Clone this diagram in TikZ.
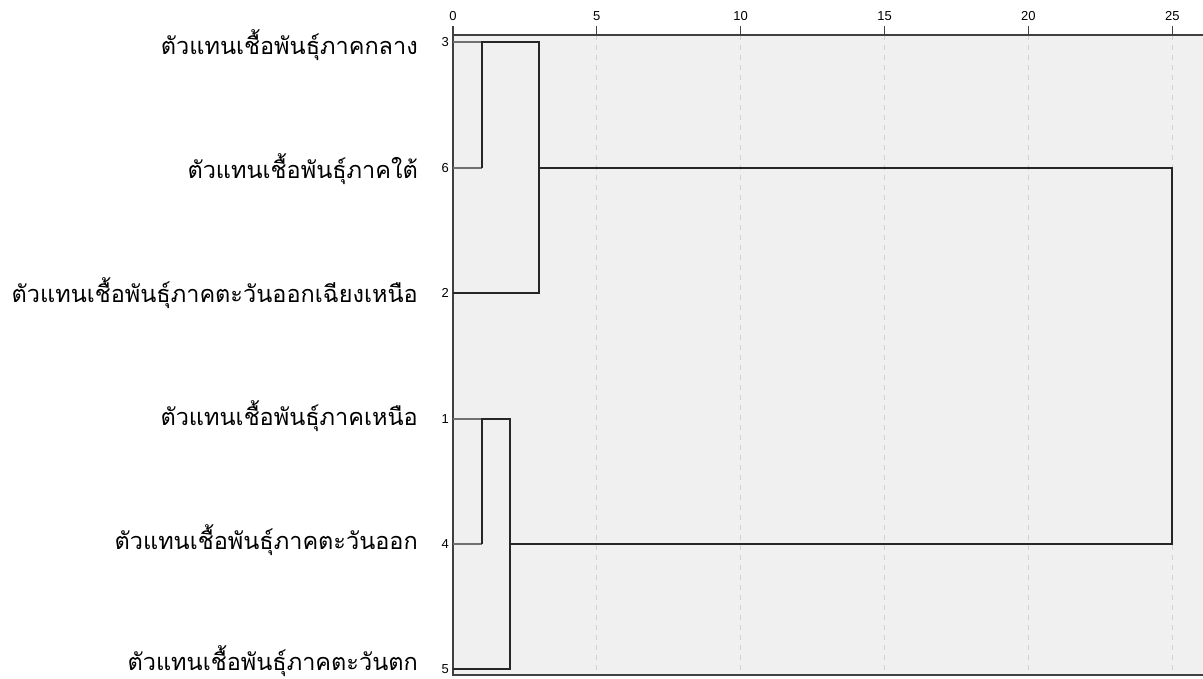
\documentclass[tikz,border=0pt]{standalone}
\usepackage{fontspec}
\setmainfont{Liberation Sans}
\newfontfamily\thaifont[Script=Thai]{Loma}
\definecolor{plotbg}{HTML}{F0F0F0}
\definecolor{gridc}{HTML}{D2D2D2}
\definecolor{leafc}{HTML}{707070}
\begin{document}
\begin{tikzpicture}[x=1pt,y=-1pt,
  thailbl/.style={anchor=base east,inner sep=0pt,text depth=0pt,font=\thaifont\fontsize{23.5}{28}\selectfont},
  numlbl/.style={anchor=east,inner sep=0pt,font=\fontsize{13}{15}\selectfont},
  ticklbl/.style={anchor=south,inner sep=0pt,font=\fontsize{13}{15}\selectfont},
  gridline/.style={gridc,dashed,line width=0.8pt,dash pattern=on 5pt off 5pt},
  leafline/.style={leafc,line width=1.2pt},
  linkline/.style={black!85,line width=1.5pt},
  frameline/.style={black!75,line width=1.2pt}]
\useasboundingbox (0,0) rectangle (1203,679);
\fill[plotbg] (453,35) rectangle (1203,675);
% grid and ticks
\foreach \v in {5,10,15,20,25}{
  \draw[gridline] ({453+28.77*\v},35) -- ({453+28.77*\v},675);
}
\foreach \v in {0,5,10,15,20,25}{
  \draw[frameline] ({453+28.77*\v},35) -- ({453+28.77*\v},26);
  \node[ticklbl] (tk\v) at ({453+28.77*\v},21) {\v};
}
\draw[frameline] (453,35) -- (1203,35);
\draw[frameline] (453,35) -- (453,675) -- (1203,675);
% leaves
\foreach \n/\yy/\by/\t in {3/42/55/ตัวแทนเชื้อพันธุ์ภาคกลาง,
  6/168/178.5/ตัวแทนเชื้อพันธุ์ภาคใต้,
  2/293/302/ตัวแทนเชื้อพันธุ์ภาคตะวันออกเฉียงเหนือ,
  1/419/425.5/ตัวแทนเชื้อพันธุ์ภาคเหนือ,
  4/544/549/ตัวแทนเชื้อพันธุ์ภาคตะวันออก,
  5/669/670/ตัวแทนเชื้อพันธุ์ภาคตะวันตก}{
  \coordinate (l\n) at (453,\yy);
  \node[numlbl] (n\n) at (449,\yy) {\n};
  \node[thailbl] (t\n) at (418,\by) {\t};
}
% joints
\coordinate (a1) at (482,42);
\coordinate (a1b) at (482,168);
\coordinate (a2) at (539,42);
\coordinate (a2m) at (539,168);
\coordinate (a2b) at (539,293);
\coordinate (b1) at (482,419);
\coordinate (b1b) at (482,544);
\coordinate (b2) at (510,419);
\coordinate (b2m) at (510,544);
\coordinate (b2b) at (510,669);
\coordinate (r1) at (1172,168);
\coordinate (r2) at (1172,544);
% leaf stubs
\draw[leafline] (l3) -- (a1);
\draw[leafline] (l6) -- (a1b);
\draw[leafline] (l1) -- (b1);
\draw[leafline] (l4) -- (b1b);
% links
\draw[linkline] (a1b) -- (a1) -- (a2) -- (a2b) -- (l2);
\draw[linkline] (b1b) -- (b1) -- (b2) -- (b2b) -- (l5);
\draw[linkline] (a2m) -- (r1) -- (r2) -- (b2m);
\end{tikzpicture}
\end{document}
